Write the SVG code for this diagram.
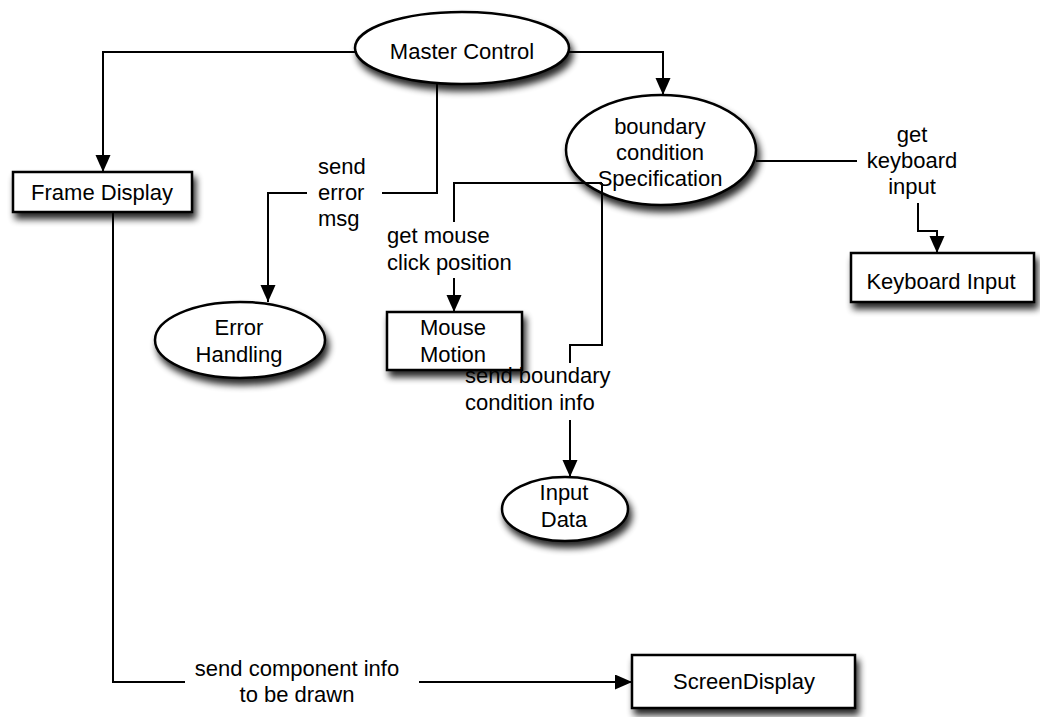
<svg xmlns="http://www.w3.org/2000/svg" width="1040" height="717" viewBox="0 0 1040 717">
<defs>
<filter id="sh" x="-20%" y="-30%" width="150%" height="170%">
<feGaussianBlur in="SourceAlpha" stdDeviation="3.5"/>
<feOffset dx="3" dy="6" result="b"/>
<feComponentTransfer><feFuncA type="linear" slope="0.85"/></feComponentTransfer>
<feMerge><feMergeNode/><feMergeNode in="SourceGraphic"/></feMerge>
</filter>
<marker id="ah" markerUnits="userSpaceOnUse" markerWidth="16" markerHeight="18" refX="17" refY="7.5" orient="auto">
<path d="M0,0 L17,7.5 L0,15 Z" fill="#000"/>
</marker>
</defs>
<style>
.n{fill:#fff;stroke:#000;stroke-width:2.5;filter:url(#sh)}
.t{font-family:"Liberation Sans",Arial,Helvetica,sans-serif;font-size:22px;fill:#000}
.c{text-anchor:middle}
.e{fill:none;stroke:#000;stroke-width:2}
</style>
<rect width="1040" height="717" fill="#fff"/>

<g id="master-control">
<ellipse class="n" cx="462" cy="48" rx="107" ry="36"/>
<text class="t c" x="462" y="59">Master Control</text>
</g>
<g id="boundary-condition">
<ellipse class="n" cx="661" cy="150" rx="95" ry="55"/>
<text class="t c" x="660" y="134">boundary</text>
<text class="t c" x="660" y="160">condition</text>
<text class="t c" x="660" y="186">Specification</text>
</g>
<g id="frame-display">
<rect class="n" x="13" y="172" width="179" height="40"/>
<text class="t c" x="102" y="200">Frame Display</text>
</g>
<g id="error-handling">
<ellipse class="n" cx="240" cy="340" rx="85" ry="38"/>
<text class="t c" x="239" y="335">Error</text>
<text class="t c" x="239" y="362">Handling</text>
</g>
<g id="mouse-motion">
<rect class="n" x="387" y="312" width="135" height="58"/>
<text class="t c" x="453" y="335">Mouse</text>
<text class="t c" x="453" y="362">Motion</text>
</g>
<g id="keyboard-input">
<rect class="n" x="851" y="253" width="183" height="49"/>
<text class="t c" x="941" y="289">Keyboard Input</text>
</g>
<g id="input-data">
<ellipse class="n" cx="565" cy="509" rx="63" ry="32"/>
<text class="t c" x="564" y="500">Input</text>
<text class="t c" x="564" y="527">Data</text>
</g>
<g id="screen-display">
<rect class="n" x="632" y="655" width="223" height="53"/>
<text class="t c" x="744" y="689">ScreenDisplay</text>
</g>

<g id="connectors">
<polyline class="e" points="357,52 103,52 103,172" marker-end="url(#ah)"/>
<polyline class="e" points="568,52 663,52 663,95" marker-end="url(#ah)"/>
<polyline class="e" points="437,84 437,193 382,193"/>
<polyline class="e" points="307,193 268,193 268,302" marker-end="url(#ah)"/>
<polyline class="e" points="602,183 454,183 454,222"/>
<polyline class="e" points="454,278 454,312" marker-end="url(#ah)"/>
<polyline class="e" points="602,183 602,345 570,345 570,363"/>
<polyline class="e" points="570,420 570,477" marker-end="url(#ah)"/>
<polyline class="e" points="756,161 857,161"/>
<polyline class="e" points="918,203 918,231 937,231 937,253" marker-end="url(#ah)"/>
<polyline class="e" points="113,212 113,682 185,682"/>
<polyline class="e" points="419,682 632,682" marker-end="url(#ah)"/>
<text class="t" x="318" y="174">send</text>
<text class="t" x="318" y="200">error</text>
<text class="t" x="318" y="226">msg</text>
<text class="t" x="387" y="243">get mouse</text>
<text class="t" x="387" y="270">click position</text>
<text class="t" x="465" y="383">send boundary</text>
<text class="t" x="465" y="410">condition info</text>
<text class="t c" x="912" y="142">get</text>
<text class="t c" x="912" y="168">keyboard</text>
<text class="t c" x="912" y="194">input</text>
<text class="t c" x="297" y="676">send component info</text>
<text class="t c" x="297" y="702">to be drawn</text>
</g>
</svg>
